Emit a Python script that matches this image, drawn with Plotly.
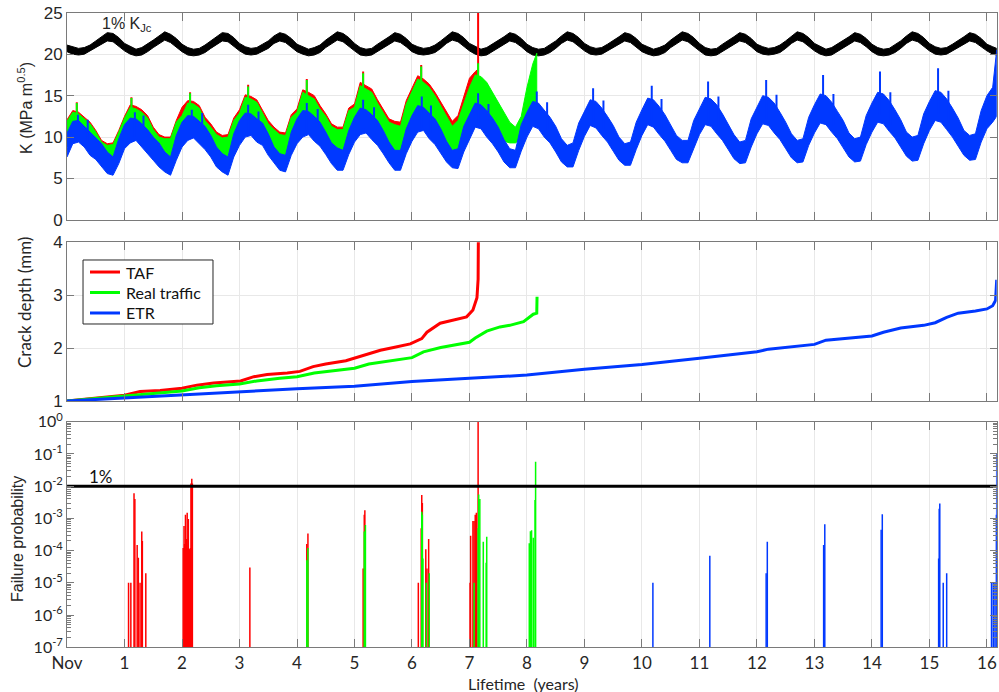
import plotly.graph_objects as go

# ---------------- data ----------------
# Top panel: upper / lower edge of each noisy K band, read every 0.1 year
k_black_up = [
 21.1,20.9,20.7,20.8,21.1,21.6,22.1,22.6,22.5,22.0,
 21.3,20.9,20.6,20.8,21.2,21.7,22.2,22.7,22.4,21.9,
 21.2,20.8,20.6,20.7,21.1,21.6,22.1,22.6,22.5,22.0,
 21.3,20.9,20.7,20.8,21.2,21.6,22.2,22.6,22.4,21.9,
 21.2,20.9,20.6,20.8,21.1,21.7,22.2,22.7,22.5,22.0,
 21.3,20.8,20.6,20.7,21.2,21.6,22.1,22.6,22.4,21.9,
 21.2,20.9,20.7,20.8,21.1,21.6,22.2,22.7,22.5,22.0,
 21.3,20.9,20.6,20.8,21.2,21.7,22.1,22.6,22.4,21.9,
 21.2,20.8,20.6,20.7,21.1,21.6,22.2,22.7,22.5,22.0,
 21.3,20.9,20.7,20.8,21.2,21.6,22.1,22.6,22.4,21.9,
 21.2,20.9,20.6,20.8,21.1,21.7,22.2,22.7,22.5,22.0,
 21.3,20.8,20.6,20.7,21.2,21.6,22.1,22.6,22.4,21.9,
 21.2,20.9,20.7,20.8,21.1,21.6,22.2,22.7,22.5,22.0,
 21.3,20.9,20.6,20.8,21.2,21.7,22.1,22.6,22.4,21.9,
 21.2,20.8,20.6,20.7,21.1,21.6,22.2,22.7,22.5,22.0,
 21.3,20.9,20.7,20.8,21.2,21.6,22.1,22.6,22.4,21.9,
 21.2,20.9,20.7]
k_black_lo = [
 20.3,20.0,19.9,20.0,20.3,20.8,21.2,21.6,21.5,21.0,
 20.4,20.0,19.8,19.9,20.3,20.8,21.3,21.7,21.4,20.9,
 20.3,19.9,19.8,19.9,20.2,20.7,21.2,21.6,21.5,21.0,
 20.4,20.0,19.9,20.0,20.3,20.7,21.3,21.6,21.4,20.9,
 20.3,20.0,19.8,19.9,20.2,20.8,21.3,21.7,21.5,21.0,
 20.4,19.9,19.8,19.9,20.3,20.7,21.2,21.6,21.4,20.9,
 20.3,20.0,19.9,20.0,20.2,20.7,21.3,21.7,21.5,21.0,
 20.4,20.0,19.8,19.9,20.3,20.8,21.2,21.6,21.4,20.9,
 20.3,19.9,19.8,19.9,20.2,20.7,21.3,21.7,21.5,21.0,
 20.4,20.0,19.9,20.0,20.3,20.7,21.2,21.6,21.4,20.9,
 20.3,20.0,19.8,19.9,20.2,20.8,21.3,21.7,21.5,21.0,
 20.4,19.9,19.8,19.9,20.3,20.7,21.2,21.6,21.4,20.9,
 20.3,20.0,19.9,20.0,20.2,20.7,21.3,21.7,21.5,21.0,
 20.4,20.0,19.8,19.9,20.3,20.8,21.2,21.6,21.4,20.9,
 20.3,19.9,19.8,19.9,20.2,20.7,21.3,21.7,21.5,21.0,
 20.4,20.0,19.9,20.0,20.3,20.7,21.2,21.6,21.4,20.9,
 20.4,20.0,19.9]
k_blue_up = [
 10.5,11.9,12.0,11.3,10.6,10.0,9.2,8.2,7.6,9.8,
 11.5,12.3,12.2,11.6,10.9,10.0,9.3,8.2,7.6,10.2,
 11.8,12.6,12.5,11.9,11.3,10.2,8.8,8.0,7.6,10.4,
 12.0,12.9,12.8,12.2,11.7,10.4,8.8,8.0,7.8,10.6,
 12.2,13.2,13.1,12.5,11.8,10.6,9.3,8.7,8.4,10.8,
 12.4,13.5,13.3,12.7,12.0,10.8,9.4,8.4,8.4,11.0,
 12.6,13.8,13.6,12.9,12.2,11.0,9.5,8.4,8.6,11.3,
 12.8,14.1,13.9,13.2,12.3,11.2,9.7,8.6,8.4,11.5,
 13.0,14.3,14.1,13.3,12.4,11.3,9.8,9.0,9.3,11.7,
 13.1,14.5,14.3,13.5,12.5,11.4,10.0,9.2,9.4,11.8,
 13.3,14.7,14.5,13.7,12.7,11.5,10.2,9.6,9.6,12.0,
 13.5,14.8,14.6,13.9,12.8,11.6,10.3,9.4,9.6,12.2,
 13.7,15.0,14.8,14.1,13.0,11.8,10.4,9.6,9.8,12.4,
 13.9,15.2,15.0,14.2,13.1,12.0,10.5,9.8,10.0,12.6,
 14.1,15.4,15.2,14.4,13.3,12.1,10.6,10.0,10.2,12.8,
 14.3,15.6,15.4,14.6,13.5,12.3,10.8,10.2,10.4,13.2,
 15.0,16.0,20.5]
k_blue_lo = [
 7.6,9.2,9.4,8.8,7.8,7.3,6.4,5.6,5.4,6.8,
 8.6,9.3,9.6,8.8,8.0,7.2,6.4,5.8,5.4,7.2,
 8.8,9.6,9.9,9.2,8.5,7.6,6.4,5.8,5.4,7.6,
 9.0,10.0,10.2,9.4,9.0,7.8,6.9,6.0,5.8,7.8,
 9.2,10.0,10.3,9.5,8.9,7.9,6.8,6.0,6.0,7.9,
 9.4,10.3,10.5,9.7,9.0,8.0,6.9,6.0,6.0,8.0,
 9.5,10.6,10.8,9.8,9.1,8.1,7.0,6.3,6.2,8.2,
 9.8,11.2,11.0,10.0,9.2,8.2,7.0,6.3,6.3,8.3,
 10.0,11.3,11.0,10.0,9.3,8.2,7.0,6.4,6.4,8.4,
 10.1,11.4,11.1,10.2,9.4,8.3,7.2,6.6,6.6,8.5,
 10.2,11.5,11.2,10.3,9.5,8.4,7.3,6.9,6.9,8.6,
 10.3,11.5,11.3,10.4,9.6,8.5,7.4,6.8,6.9,8.8,
 10.4,11.6,11.4,10.5,9.7,8.6,7.5,6.9,7.0,9.0,
 10.5,11.7,11.5,10.6,9.8,8.7,7.6,7.0,7.1,9.1,
 10.6,11.8,11.6,10.7,9.9,8.8,7.7,7.1,7.2,9.2,
 10.8,12.0,11.8,10.9,10.0,8.9,7.8,7.2,7.3,9.4,
 11.0,11.8,12.5]
k_green_up = [
 11.9,13.0,12.8,12.2,11.6,10.6,9.4,9.0,9.1,10.6,
 12.3,13.6,13.4,13.0,12.3,10.9,10.0,9.8,9.8,11.8,
 12.6,14.1,14.0,13.5,12.0,11.2,10.3,9.9,10.0,12.0,
 12.9,14.8,14.6,14.2,12.9,11.6,10.9,10.3,10.2,12.4,
 13.0,15.4,15.0,14.6,13.4,12.5,11.3,10.9,10.9,13.2,
 13.6,16.2,15.8,15.4,14.1,12.9,11.8,11.5,11.3,14.0,
 15.4,17.0,16.6,16.0,15.0,13.8,12.6,11.3,12.0,13.9,
 16.0,17.5,17.3,16.6,15.4,14.3,13.0,11.8,11.2,12.5,
 16.0,18.8,20.1]
k_green_lo = [
 8.8,10.4,10.6,10.0,9.0,8.5,7.6,6.8,6.6,8.0,
 9.8,10.5,10.8,10.0,9.2,8.4,7.6,7.0,6.6,8.4,
 10.0,10.8,11.1,10.4,9.7,8.8,7.6,7.0,6.6,8.8,
 10.2,11.2,11.4,10.6,10.2,9.0,8.1,7.2,7.0,9.0,
 10.4,11.2,11.5,10.7,10.1,9.1,8.0,7.2,7.2,9.1,
 10.6,11.5,11.7,10.9,10.2,9.2,8.1,7.2,7.2,9.2,
 10.7,11.8,12.0,11.0,10.3,9.3,8.2,7.5,7.4,9.4,
 11.0,12.4,12.2,11.0,10.5,10.0,9.5,9.3,9.3,9.8,
 11.0,12.5,14.0]
k_red_up = [
 12.1,13.2,13.0,12.4,11.8,10.8,9.6,9.2,9.3,10.8,
 12.5,13.9,13.7,13.3,12.6,11.2,10.3,10.0,10.0,12.0,
 13.6,14.4,14.3,13.8,12.4,11.6,10.6,10.2,10.3,12.3,
 13.3,15.1,14.9,14.5,13.2,12.0,11.2,10.6,10.5,12.7,
 13.4,15.7,15.4,15.0,13.8,12.8,11.6,11.2,11.2,13.5,
 14.0,16.6,16.2,15.8,14.5,13.3,12.2,11.9,11.8,14.4,
 15.9,17.4,17.0,16.4,15.4,14.2,13.0,11.9,12.6,15.0,
 17.1,17.9,18.2]
k_red_lo = [
 8.8,10.4,10.6,10.0,9.0,8.5,7.6,6.8,6.6,8.0,
 9.8,10.5,10.8,10.0,9.2,8.4,7.6,7.0,6.6,8.4,
 10.0,10.8,11.1,10.4,9.7,8.8,7.6,7.0,6.6,8.8,
 10.2,11.2,11.4,10.6,10.2,9.0,8.1,7.2,7.0,9.0,
 10.4,11.2,11.5,10.7,10.1,9.1,8.0,7.2,7.2,9.1,
 10.6,11.5,11.7,10.9,10.2,9.2,8.1,7.2,7.2,9.2,
 10.7,11.8,12.0,11.0,10.3,9.3,8.2,7.5,7.4,9.4,
 11.0,12.4,12.4]
t_k = [round(0.1 * i, 1) for i in range(162)] + [16.17]
t_green = [round(0.1 * i, 1) for i in range(82)] + [8.17]
t_red = [round(0.1 * i, 1) for i in range(72)] + [7.15]

# narrow spikes sticking out of the bands (time, bottom, top)
sp_blue_t = [0.19, 0.36, 1.18, 1.33, 2.17, 2.35, 3.15, 3.33, 4.17, 4.36, 5.15, 5.34, 6.17, 6.33,
             7.15, 7.33, 8.17, 8.35, 9.15, 9.33, 10.17, 10.34, 11.15, 11.33, 12.16, 12.34,
             13.15, 13.33, 14.14, 14.32, 15.15, 15.33]
sp_blue_lo = [10.0, 9.5, 10.0, 9.5, 10.3, 9.8, 10.5, 10.0, 10.7, 10.2, 11.0, 10.4, 11.2, 10.5,
              11.5, 10.8, 11.6, 10.9, 11.8, 11.0, 12.0, 11.1, 12.0, 11.2, 12.2, 11.3,
              12.4, 11.4, 12.6, 11.5, 12.8, 11.7]
sp_blue_hi = [12.7, 12.1, 13.0, 12.6, 13.3, 12.9, 13.9, 13.1, 14.1, 13.4, 14.5, 13.6, 14.9, 13.8,
              15.3, 14.0, 15.5, 14.2, 15.9, 14.4, 16.2, 14.6, 16.7, 14.9, 16.9, 15.1,
              17.5, 15.2, 17.9, 15.4, 18.3, 15.6]
sp_green_t = [0.17, 1.12, 2.14, 3.15, 4.17, 5.15, 6.16, 7.15]
sp_green_lo = [11.5, 12.0, 12.5, 13.0, 13.5, 14.0, 15.0, 15.5]
sp_green_hi = [14.1, 14.7, 15.3, 16.1, 16.9, 17.7, 18.5, 18.9]
sp_red_t = [0.17, 1.12, 2.14, 3.15, 4.17, 5.15, 6.16, 7.15]
sp_red_lo = [11.5, 12.0, 12.5, 13.0, 13.5, 14.0, 15.0, 16.0]
sp_red_hi = [14.2, 14.8, 15.4, 16.3, 17.0, 17.9, 18.7, 26.0]

# Middle panel: crack depth (mm)
cd_red_t = [0, 0.5, 1.0, 1.27, 1.62, 2.0, 2.26, 2.55, 2.9, 3.02, 3.25, 3.48, 3.83, 4.05, 4.28,
            4.5, 4.85, 5.1, 5.2, 5.45, 5.68, 5.97, 6.17, 6.26, 6.49, 6.72, 6.95, 7.06, 7.13, 7.15, 7.155]
cd_red = [1.0, 1.05, 1.11, 1.18, 1.20, 1.24, 1.30, 1.34, 1.37, 1.38, 1.46, 1.50, 1.53, 1.56, 1.65,
          1.70, 1.76, 1.84, 1.87, 1.96, 2.01, 2.08, 2.18, 2.30, 2.47, 2.53, 2.59, 2.72, 2.95, 3.3, 4.2]
cd_green_t = [0, 0.5, 1.0, 1.5, 2.0, 2.3, 2.6, 3.0, 3.3, 3.7, 4.0, 4.3, 4.7, 5.0, 5.25, 5.6,
              6.0, 6.2, 6.5, 7.0, 7.1, 7.3, 7.53, 7.7, 7.94, 8.11, 8.17, 8.175]
cd_green = [1.0, 1.05, 1.10, 1.14, 1.19, 1.25, 1.29, 1.32, 1.38, 1.43, 1.46, 1.53, 1.58, 1.62, 1.70, 1.75,
            1.82, 1.93, 2.01, 2.11, 2.19, 2.32, 2.40, 2.43, 2.50, 2.64, 2.66, 2.97]
cd_blue_t = [0, 1, 2, 3, 4, 5, 6, 7, 7.5, 8, 9, 10, 11, 12, 12.2, 12.9, 13.0, 13.2, 13.9, 14.0,
             14.2, 14.5, 14.9, 15.0, 15.1, 15.3, 15.5, 15.8, 16.0, 16.1, 16.15, 16.17]
cd_blue = [1.0, 1.06, 1.11, 1.18, 1.23, 1.28, 1.37, 1.43, 1.46, 1.49, 1.60, 1.69, 1.81, 1.93, 1.98, 2.05, 2.07,
           2.15, 2.21, 2.23, 2.30, 2.38, 2.43, 2.45, 2.48, 2.58, 2.66, 2.70, 2.74, 2.80, 2.90, 3.29]
legend_names = ["TAF", "Real traffic", "ETR"]

# Bottom panel: failure probability spikes
fp_red_t = [1.07, 1.11, 1.165, 1.18, 1.22, 1.24, 1.27, 1.30, 1.31, 1.37,
            2.02, 2.035, 2.045, 2.06, 2.07, 2.08, 2.09, 2.10, 2.11, 2.12, 2.13, 2.145, 2.155, 2.17, 2.18,
            3.18, 4.17, 4.19, 5.15, 5.17, 5.18,
            6.11, 6.16, 6.17, 6.18, 6.24, 6.26, 6.29,
            7.01, 7.02, 7.06, 7.08, 7.10, 7.12, 7.15]
fp_red = [1e-5, 1e-5, 6e-3, 4e-3, 1.5e-4, 6e-5, 1e-5, 3.9e-4, 2e-4, 2e-5,
          1.2e-4, 5.8e-4, 1.6e-4, 1.3e-3, 1.7e-4, 2.3e-4, 1.5e-3, 1.2e-4, 9.5e-4, 1.1e-4, 1.1e-4, 1.2e-4, 1.2e-2, 1.7e-2, 1.2e-2,
          3e-5, 1.6e-4, 3.4e-4, 2.8e-5, 1.3e-3, 1.8e-3,
          1e-5, 4.9e-4, 5.3e-3, 3e-3, 1.1e-4, 2.8e-5, 2.3e-4,
          1e-5, 2.9e-4, 8.3e-4, 8.3e-4, 1.3e-3, 1.5e-3, 1.0]
fp_green_t = [4.17, 4.19, 5.17, 5.19, 6.17, 6.18, 6.19, 6.25, 6.30, 7.08, 7.15, 7.16, 7.18,
              7.24, 7.29, 7.30, 8.04, 8.06, 8.08, 8.11, 8.14, 8.15]
fp_green = [5e-5, 1.2e-4, 3.9e-4, 6.2e-4, 1.6e-3, 1.3e-3, 5.7e-5, 1e-5, 2e-5, 1e-5, 4.9e-4, 5.5e-3, 4e-3,
            1.9e-4, 4.2e-5, 2.7e-4, 1.7e-4, 4e-4, 4.3e-4, 2.5e-4, 3.7e-3, 5.7e-2]
fp_blue_t = [10.19, 11.18, 12.16, 12.18, 13.16, 13.18, 14.16, 14.18, 15.16, 15.17, 15.18, 15.24, 15.30,
             16.08, 16.11, 16.14, 16.165, 16.17]
fp_blue = [1e-5, 6.9e-5, 2e-5, 1.9e-4, 1.5e-4, 6.6e-4, 4.4e-4, 1.35e-3, 5.7e-5, 2e-3, 2.9e-3, 1e-5, 2e-5,
           1e-5, 1e-5, 1e-5, 1.3e-3, 1e-1]
fp_threshold = 1e-2

year_ticks = list(range(17))
year_labels = ["Nov"] + [str(i) for i in range(1, 17)]
k_ticks = [0, 5, 10, 15, 20, 25]
cd_ticks = [1, 2, 3, 4]
fp_ticks = [1e-7, 1e-6, 1e-5, 1e-4, 1e-3, 1e-2, 1e-1, 1e0]
fp_labels = ["10<sup>-7</sup>", "10<sup>-6</sup>", "10<sup>-5</sup>", "10<sup>-4</sup>",
             "10<sup>-3</sup>", "10<sup>-2</sup>", "10<sup>-1</sup>", "10<sup>0</sup>"]

RED, GREEN, BLUE, BLACK = "#ff0000", "#00ff00", "#0038ff", "#000000"

fig = go.Figure()


def band(t, up, lo, color):
    fig.add_trace(go.Scatter(x=t + t[::-1], y=up + lo[::-1], fill="toself", fillcolor=color,
                             mode="lines", line=dict(color=color, width=1), showlegend=False,
                             hoverinfo="skip", xaxis="x", yaxis="y"))


def vsegs(tt, lo, hi, col, w, xa, ya):
    xs, ys = [], []
    for a, b, c in zip(tt, lo, hi):
        xs += [a, a, None]
        ys += [b, c, None]
    fig.add_trace(go.Scatter(x=xs, y=ys, mode="lines", line=dict(color=col, width=w),
                             showlegend=False, hoverinfo="skip", xaxis=xa, yaxis=ya))


band(t_k, k_black_up, k_black_lo, BLACK)
band(t_red, k_red_up, k_red_lo, RED)
vsegs(sp_red_t, sp_red_lo, sp_red_hi, RED, 2, "x", "y")
band(t_green, k_green_up, k_green_lo, GREEN)
vsegs(sp_green_t, sp_green_lo, sp_green_hi, GREEN, 2, "x", "y")
band(t_k, k_blue_up, k_blue_lo, BLUE)
vsegs(sp_blue_t, sp_blue_lo, sp_blue_hi, BLUE, 2, "x", "y")

for name, tt, dd, col in zip(legend_names, [cd_red_t, cd_green_t, cd_blue_t], [cd_red, cd_green, cd_blue],
                             [RED, GREEN, BLUE]):
    fig.add_trace(go.Scatter(x=tt, y=dd, mode="lines", name=name, line=dict(color=col, width=3),
                             showlegend=False, xaxis="x2", yaxis="y2"))

vsegs(fp_red_t, [1e-7] * len(fp_red_t), fp_red, RED, 1.5, "x3", "y3")
vsegs(fp_green_t, [1e-7] * len(fp_green_t), fp_green, GREEN, 1.5, "x3", "y3")
vsegs(fp_blue_t, [1e-7] * len(fp_blue_t), fp_blue, BLUE, 1.5, "x3", "y3")
fig.add_trace(go.Scatter(x=[0, 16.17], y=[fp_threshold, fp_threshold], mode="lines",
                         line=dict(color=BLACK, width=3), showlegend=False, xaxis="x3", yaxis="y3"))

AX = "#7a7a7a"
GRID = "#e8e8e8"
XD = [0.0671, 0.9977]
xcommon = dict(range=[0, 16.17], tickvals=year_ticks, ticktext=year_labels, showgrid=True, gridcolor=GRID,
               ticks="inside", ticklen=8, tickcolor=AX, showline=True, linecolor=AX, mirror="ticks",
               zeroline=False, domain=XD, automargin=False,
               tickfont=dict(family="Lato", size=17, color="#262626"))
ycommon = dict(ticks="inside", ticklen=7, tickcolor=AX, showline=True, linecolor=AX, mirror="ticks",
               zeroline=False, automargin=False, gridcolor=GRID,
               tickfont=dict(family="Liberation Sans", size=17, color="#262626"))

# hand-placed legend box for the crack-depth panel (paper coordinates)
leg_x0, leg_x1, leg_y0, leg_y1 = 0.0831, 0.2132, 0.5318, 0.6243
leg_rows = [0.6069, 0.5773, 0.5477]
shapes = [dict(type="rect", xref="paper", yref="paper", x0=leg_x0, x1=leg_x1, y0=leg_y0, y1=leg_y1,
               line=dict(color="#262626", width=1), fillcolor="white", layer="above")]
annotations = []
for name, col, yy in zip(legend_names, [RED, GREEN, BLUE], leg_rows):
    shapes.append(dict(type="line", xref="paper", yref="paper", x0=0.0901, x1=0.1201, y0=yy, y1=yy,
                       line=dict(color=col, width=3), layer="above"))
    annotations.append(dict(text=name, x=0.1241, y=yy, xref="paper", yref="paper", xanchor="left",
                            yanchor="middle", showarrow=False,
                            font=dict(family="Lato", size=16, color="#111")))

annotations += [
    dict(text="1% K<sub>Jc</sub>", x=0.57, y=23.6, xref="x", yref="y", xanchor="left",
         yanchor="middle", showarrow=False, font=dict(family="Liberation Sans", size=16, color="#262626")),
    dict(text="1%", x=0.35, y=-1.69, xref="x3", yref="y3", xanchor="left", yanchor="middle",
         showarrow=False, font=dict(family="Lato", size=17, color="#111")),
    dict(text="K (MPa m<sup>0.5</sup>)", x=0.025, y=0.844, xref="paper", yref="paper", textangle=-90,
         xanchor="center", yanchor="middle",
         showarrow=False, font=dict(family="Liberation Sans", size=16, color="#262626")),
    dict(text="Crack depth (mm)", x=0.025, y=0.5636, xref="paper", yref="paper", textangle=-90,
         xanchor="center", yanchor="middle",
         showarrow=False, font=dict(family="Lato", size=17, color="#262626")),
    dict(text="Failure probability", x=0.018, y=0.2211, xref="paper", yref="paper", textangle=-90,
         xanchor="center", yanchor="middle",
         showarrow=False, font=dict(family="Liberation Sans", size=16, color="#262626")),
    dict(text="Lifetime  (years)", x=0.5245, y=0.013, xref="paper", yref="paper",
         xanchor="center", yanchor="middle",
         showarrow=False, font=dict(family="Lato", size=16, color="#262626")),
]

fig.update_layout(
    width=999, height=692, margin=dict(l=0, r=0, t=0, b=0),
    paper_bgcolor="white", plot_bgcolor="white", showlegend=False,
    xaxis=dict(xcommon, anchor="y", showticklabels=False),
    yaxis=dict(ycommon, domain=[0.6821, 0.9816], range=[0, 25], tickvals=k_ticks, showgrid=True),
    xaxis2=dict(xcommon, anchor="y2", showticklabels=False),
    yaxis2=dict(ycommon, domain=[0.4205, 0.6499], range=[1, 4], tickvals=cd_ticks, showgrid=True),
    xaxis3=dict(xcommon, anchor="y3"),
    yaxis3=dict(ycommon, domain=[0.0646, 0.3906], type="log", range=[-7, 0], tickvals=fp_ticks,
                ticktext=fp_labels, showgrid=False,
                tickfont=dict(family="Lato", size=16, color="#262626"),
                minor=dict(ticks="inside", ticklen=4, tickcolor=AX, dtick="D1", showgrid=False)),
    shapes=shapes,
    annotations=annotations,
)

fig.write_html("out.html", config={"displayModeBar": False},
               post_script="document.body.style.margin='0';document.body.style.padding='0';")
